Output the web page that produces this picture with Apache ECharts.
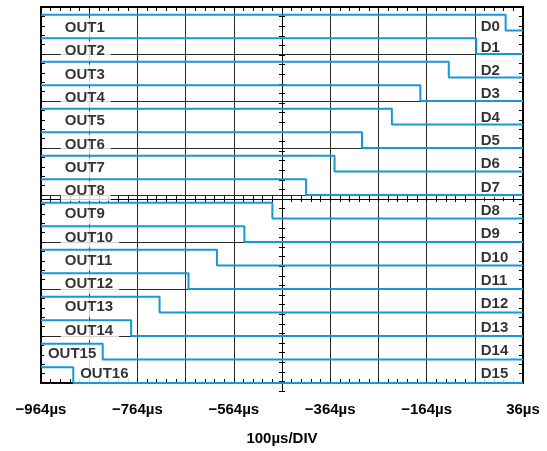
<!DOCTYPE html>
<html>
<head>
<meta charset="utf-8">
<script src="https://cdn.jsdelivr.net/npm/echarts@6/dist/echarts.min.js"></script>
<style>
  html, body { margin: 0; padding: 0; background: #ffffff; }
  #chart { width: 547px; height: 451px; }
</style>
</head>
<body>
<div id="chart"></div>
<script>
// Capture window, in µs
const windowStart = -964;
const windowEnd = 36;
const timePerDiv = 100;

// Channel names (left: outputs, right: data bits)
const outputNames = ['OUT1', 'OUT2', 'OUT3', 'OUT4', 'OUT5', 'OUT6', 'OUT7', 'OUT8',
                     'OUT9', 'OUT10', 'OUT11', 'OUT12', 'OUT13', 'OUT14', 'OUT15', 'OUT16'];
const dataNames = ['D0', 'D1', 'D2', 'D3', 'D4', 'D5', 'D6', 'D7',
                   'D8', 'D9', 'D10', 'D11', 'D12', 'D13', 'D14', 'D15'];

// Falling-edge time of each channel, µs
const fallTimes = [0, -61, -118, -177, -236, -298, -355, -414,
                   -484, -542, -599, -658, -718, -777, -836, -897];

// Time-axis labels, one every two divisions
const tickLabels = ['\u2212964\u00b5s', '\u2212764\u00b5s', '\u2212564\u00b5s',
                    '\u2212364\u00b5s', '\u2212164\u00b5s', '36\u00b5s'];

// ---- drawing setup ----
const span = windowEnd - windowStart;          // axis runs 0..span (time since window start)
const nCh = outputNames.length;                // one lane per channel, top to bottom
const HIGH = 2 / 3;                            // logic-high height inside a lane
const LANE_PX = 24;                            // lane height on screen
const TRACE = '#1698d5';
const FONT = '"Liberation Sans", Arial, Helvetica, sans-serif';

// Channel-name placement: anchor along the time axis (axis units) and
// height above the lane's low level (px)
const outAnchor = 41;
const outAnchorOverride = { 14: 6, 15: 73 };
const dAnchor = 904;
const outLiftPx = i => (i === 15 ? 9.5 : 2.5 + 3.5 * i / 15);
const dLiftPx = i => (i === 0 ? 3.5 : 6.5 + 2.5 * (i - 1) / 14);

const laneLow = i => nCh - 1 - i;

const traceSeries = fallTimes.map((t, i) => {
  const lo = laneLow(i), hi = lo + HIGH, edge = t - windowStart;
  return {
    type: 'line',
    name: dataNames[i],
    xAxisIndex: 0, yAxisIndex: 0,
    z: 3,
    clip: false,
    symbol: 'none',
    silent: true,
    lineStyle: { color: TRACE, width: 2 },
    data: [[0, hi], [edge, hi], [edge, lo], [span, lo]]
  };
});

const labelStyle = {
  show: true,
  position: 'right',
  distance: 0,
  formatter: p => p.name,
  color: '#000',
  fontFamily: FONT,
  fontWeight: 'bold',
  fontSize: 15,
  lineHeight: 14,
  backgroundColor: '#ffffff',
  padding: [3, 6, 3, 4]
};

const labelSeries = {
  type: 'scatter',
  xAxisIndex: 0, yAxisIndex: 0,
  z: 1,
  silent: true,
  symbolSize: 0,
  itemStyle: { color: 'rgba(0,0,0,0)' },
  label: labelStyle,
  data: outputNames.map((n, i) => ({
    name: n,
    value: [i in outAnchorOverride ? outAnchorOverride[i] : outAnchor,
            laneLow(i) + outLiftPx(i) / LANE_PX]
  })).concat(dataNames.map((n, i) => ({
    name: n,
    value: [dAnchor, laneLow(i) + dLiftPx(i) / LANE_PX]
  })))
};

const frameLine = { show: true, onZero: false, lineStyle: { color: '#000', width: 2 } };
const gridLine = { show: true, lineStyle: { color: '#2a2a2a', width: 1 } };
const frameTick = { show: true, inside: true, length: 4, lineStyle: { color: '#000', width: 1 } };
const frameMinor = { show: true, splitNumber: 5, length: 4, lineStyle: { color: '#000', width: 1 } };

const crossTick = { show: true, inside: false, length: 3, lineStyle: { color: '#000', width: 1 } };
const crossMinor = { show: true, splitNumber: 5, length: 3, lineStyle: { color: '#000', width: 1 } };
const crossLine = { show: true, onZero: true, lineStyle: { color: '#000', width: 1 } };

const rect = { left: 41, top: 7, width: 482, height: 384 };

const option = {
  backgroundColor: '#ffffff',
  animation: false,
  grid: [
    Object.assign({ containLabel: false }, rect),
    Object.assign({ containLabel: false }, rect)
  ],
  xAxis: [
    {
      gridIndex: 0, type: 'value', position: 'bottom',
      min: 0, max: span, interval: timePerDiv,
      axisLine: frameLine, axisTick: frameTick, minorTick: frameMinor,
      splitLine: gridLine,
      axisLabel: {
        show: true, margin: 19,
        color: '#000', fontFamily: FONT, fontWeight: 'bold', fontSize: 15,
        formatter: v => (v % (2 * timePerDiv) === 0 ? tickLabels[v / (2 * timePerDiv)] : '')
      },
      name: '100\u00b5s/DIV', nameLocation: 'middle', nameGap: 48,
      nameTextStyle: { color: '#000', fontFamily: FONT, fontWeight: 'bold', fontSize: 15 }
    },
    {
      gridIndex: 0, type: 'value', position: 'top',
      min: 0, max: span, interval: timePerDiv,
      axisLine: frameLine, axisTick: frameTick, minorTick: frameMinor,
      splitLine: { show: false }, axisLabel: { show: false }
    },
    {
      gridIndex: 1, type: 'value', position: 'bottom',
      min: -5, max: 5, interval: 1,
      axisLine: crossLine, axisTick: crossTick, minorTick: crossMinor,
      splitLine: { show: false }, axisLabel: { show: false }
    },
    {
      gridIndex: 1, type: 'value', position: 'top',
      min: -5, max: 5, interval: 1,
      axisLine: crossLine, axisTick: crossTick, minorTick: crossMinor,
      splitLine: { show: false }, axisLabel: { show: false }
    }
  ],
  yAxis: [
    {
      gridIndex: 0, type: 'value', position: 'left',
      min: 0, max: nCh, interval: 2,
      axisLine: frameLine, axisTick: frameTick, minorTick: frameMinor,
      splitLine: gridLine, axisLabel: { show: false }
    },
    {
      gridIndex: 0, type: 'value', position: 'right',
      min: 0, max: nCh, interval: 2,
      axisLine: frameLine, axisTick: frameTick, minorTick: frameMinor,
      splitLine: { show: false }, axisLabel: { show: false }
    },
    {
      gridIndex: 1, type: 'value', position: 'left',
      min: -4, max: 4, interval: 1,
      axisLine: crossLine, axisTick: crossTick, minorTick: crossMinor,
      splitLine: { show: false }, axisLabel: { show: false }
    },
    {
      gridIndex: 1, type: 'value', position: 'right',
      min: -4, max: 4, interval: 1,
      axisLine: crossLine, axisTick: crossTick, minorTick: crossMinor,
      splitLine: { show: false }, axisLabel: { show: false }
    }
  ],
  series: [labelSeries].concat(traceSeries)
};

const chart = echarts.init(document.getElementById('chart'), null, { renderer: 'canvas' });
chart.setOption(option);
</script>
</body>
</html>
